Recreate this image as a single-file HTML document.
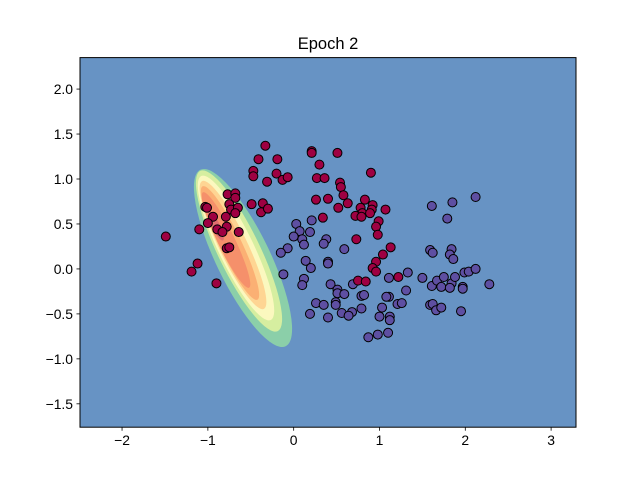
<!DOCTYPE html>
<html><head><meta charset="utf-8"><style>
html,body{margin:0;padding:0;background:#fff}
svg{display:block;font-family:"Liberation Sans","DejaVu Sans",sans-serif}
</style></head><body>
<svg id="chart" width="640" height="480" viewBox="0 0 640 480">
<rect width="640" height="480" fill="#fff"/>
<text x="328" y="49" font-size="16.5" text-anchor="middle" fill="#000">Epoch 2</text>
<clipPath id="clip"><rect x="80" y="57.6" width="496" height="369.6"/></clipPath>
<g clip-path="url(#clip)">
<rect x="80" y="57.6" width="496" height="369.6" fill="#6793c4"/>
<g id="contours">
<ellipse cx="243" cy="258" rx="27" ry="98" transform="rotate(-25.8 243 258)" fill="#8bcfa9"/>
<ellipse cx="239" cy="251" rx="21" ry="89" transform="rotate(-25.8 239 251)" fill="#d6eea0"/>
<ellipse cx="236" cy="248" rx="17.5" ry="80" transform="rotate(-25.8 236 248)" fill="#fbf8bf"/>
<ellipse cx="233" cy="245" rx="14" ry="71" transform="rotate(-25.8 233 245)" fill="#fed593"/>
<ellipse cx="230" cy="243" rx="11" ry="63" transform="rotate(-25.8 230 243)" fill="#fbb074"/>
<ellipse cx="226" cy="240" rx="8.5" ry="53" transform="rotate(-25.8 226 240)" fill="#f5906b"/>
<ellipse cx="216" cy="226" rx="4" ry="16" transform="rotate(-25.8 216 226)" fill="#e06e70"/>
</g>
<g id="points"></g>
</g>
<rect x="80" y="57.6" width="496" height="369.6" fill="none" stroke="#000" stroke-width="1"/>
<g id="xticks"></g>
<g id="yticks"></g>
</svg>
<script>
const xTicks = [-2, -1, 0, 1, 2, 3];
const yTicks = [-1.5, -1.0, -0.5, 0.0, 0.5, 1.0, 1.5, 2.0];
const redX = [-0.33,-0.41,-0.19,-0.47,-0.47,-0.31,-0.20,-0.13,-0.07,0.21,0.21,0.51,0.30,0.27,0.36,0.90,0.54,0.55,0.58,0.63,0.26,0.40,0.52,0.34,0.83,0.92,0.78,0.80,0.91,0.72,0.79,0.89,1.07,0.99,0.96,0.98,0.73,1.13,1.04,0.96,0.92,0.96,0.75,0.84,1.22,
-0.77,-0.68,-0.68,-0.75,-0.73,-0.65,-0.68,-1.03,-1.01,-0.94,-1.00,-1.10,-0.79,-0.89,-0.78,-0.83,-0.64,-0.78,-0.75,-0.49,-0.36,-0.38,-0.30,-1.49,-1.12,-1.19,-0.90];
const redY = [1.37,1.22,1.22,1.09,1.03,0.97,1.06,0.99,1.02,1.31,1.29,1.29,1.16,1.01,1.01,1.07,0.96,0.91,0.82,0.73,0.77,0.78,0.68,0.57,0.77,0.71,0.68,0.62,0.66,0.59,0.58,0.62,0.66,0.53,0.47,0.38,0.33,0.24,0.16,0.08,0.01,-0.03,-0.13,-0.14,-0.09,
0.83,0.84,0.79,0.72,0.66,0.68,0.62,0.69,0.68,0.58,0.51,0.44,0.58,0.44,0.47,0.41,0.41,0.23,0.24,0.72,0.73,0.63,0.67,0.36,0.06,-0.03,-0.16];
const blueX = [0.03,0.21,0.07,0.19,0.00,0.10,0.12,0.38,0.35,0.59,-0.07,-0.15,0.14,0.20,0.40,0.40,-0.12,0.12,0.10,0.43,0.69,0.51,0.51,0.59,0.79,0.82,1.11,1.33,1.11,1.08,1.31,0.26,0.35,0.49,0.49,0.19,0.40,0.56,0.68,0.64,0.79,1.03,1.00,1.12,1.12,1.21,1.26,0.87,0.98,1.10,1.50,1.61,1.85,2.12,1.79,1.59,1.62,1.84,1.82,1.86,1.61,1.67,1.75,1.72,1.84,1.88,1.82,1.97,1.97,1.99,2.04,2.12,2.28,1.59,1.62,1.66,1.72,1.95];
const blueY = [0.50,0.54,0.42,0.41,0.36,0.33,0.27,0.33,0.28,0.22,0.23,0.18,0.09,0.01,0.08,0.06,-0.06,-0.11,-0.18,-0.17,-0.17,-0.23,-0.27,-0.28,-0.30,-0.29,-0.10,-0.04,-0.31,-0.31,-0.24,-0.38,-0.40,-0.37,-0.40,-0.50,-0.54,-0.49,-0.48,-0.52,-0.44,-0.43,-0.53,-0.53,-0.57,-0.39,-0.38,-0.76,-0.73,-0.71,-0.10,0.70,0.74,0.80,0.56,0.21,0.18,0.22,0.16,0.11,-0.19,-0.13,-0.09,-0.20,-0.16,-0.09,-0.21,-0.20,-0.22,-0.04,-0.03,0.00,-0.17,-0.40,-0.39,-0.46,-0.43,-0.47];

const X0=80, X1=576, Y0=57.6, Y1=427.2;
const xMin=-2.49, xMax=3.29, yMin=-1.76, yMax=2.35;
function sx(v){return X0+(v-xMin)/(xMax-xMin)*(X1-X0);}
function sy(v){return Y1-(v-yMin)/(yMax-yMin)*(Y1-Y0);}
const NS="http://www.w3.org/2000/svg";
function mk(tag, attrs, parent){const e=document.createElementNS(NS,tag);for(const k in attrs)e.setAttribute(k,attrs[k]);parent.appendChild(e);return e;}

const pts=document.getElementById('points');
for(let i=0;i<blueX.length;i++){
  const c=mk('circle',{cx:sx(blueX[i]),cy:sy(blueY[i]),r:4.5,fill:'#5e4fa2',stroke:'#000','stroke-width':1},pts);
  
  
}
for(let i=0;i<redX.length;i++){
  const c=mk('circle',{cx:sx(redX[i]),cy:sy(redY[i]),r:4.5,fill:'#9e0142',stroke:'#000','stroke-width':1},pts);
  
  
}
const xg=document.getElementById('xticks');
xTicks.forEach(v=>{
  const x=sx(v);
  const l=mk('line',{x1:x,x2:x,y1:Y1,y2:Y1+3.5,stroke:'#000','stroke-width':0.8},xg);
  
  
  const t=mk('text',{x:x,y:Y1+18,'font-size':13.9,'text-anchor':'middle',fill:'#000'},xg);
  t.textContent=(v<0?'\u2212':'')+Math.abs(v);
  
  
});
const yg=document.getElementById('yticks');
yTicks.forEach(v=>{
  const y=sy(v);
  const l=mk('line',{x1:X0-3.5,x2:X0,y1:y,y2:y,stroke:'#000','stroke-width':0.8},yg);
  
  
  const t=mk('text',{x:X0-7,y:y+5,'font-size':13.9,'text-anchor':'end',fill:'#000'},yg);
  t.textContent=(v<0?'\u2212':'')+Math.abs(v).toFixed(1);
  
  
});
</script>
</body></html>
